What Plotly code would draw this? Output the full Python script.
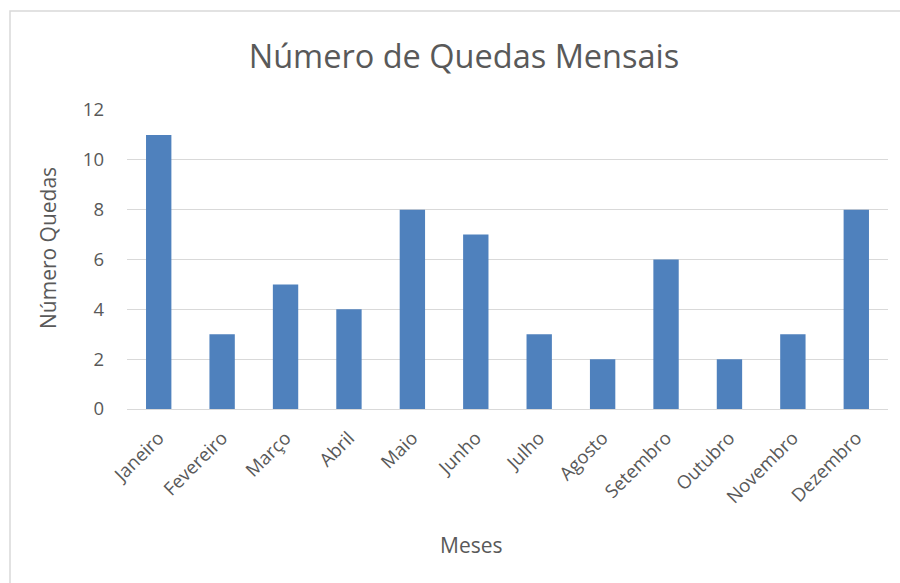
import plotly.graph_objects as go

meses = ["Janeiro", "Fevereiro", "Março", "Abril", "Maio", "Junho", "Julho",
         "Agosto", "Setembro", "Outubro", "Novembro", "Dezembro"]
quedas = [11, 3, 5, 4, 8, 7, 3, 2, 6, 2, 3, 8]
y_ticks = [0, 2, 4, 6, 8, 10, 12]

W, H = 900, 583
L, R, T, B = 127, 12, 110, 174
PW, PH = W - L - R, H - T - B

fig = go.Figure(go.Bar(x=meses, y=quedas, marker=dict(color="#4F81BD", line=dict(width=0))))

font = "Open Sans, Liberation Sans, sans-serif"
fig.update_layout(
    width=W, height=H,
    margin=dict(l=L, r=R, t=T, b=B),
    paper_bgcolor="white", plot_bgcolor="white",
    bargap=0.6,
    showlegend=False,
    font=dict(family=font, color="#595959"),
    title=dict(text="Número de Quedas Mensais", x=464 / W, xref="container", xanchor="center",
               y=1 - 57 / H, yanchor="middle", font=dict(size=32.5, color="#595959", family=font)),
    xaxis=dict(tickangle=-45, tickfont=dict(size=18.5), showgrid=False, showline=True,
               linecolor="#d9d9d9", linewidth=1, ticks="", ticklabelstandoff=10),
    yaxis=dict(range=[0, 12], tickvals=y_ticks, tickfont=dict(size=18.5), showgrid=True,
               gridcolor="#d9d9d9", gridwidth=1, zeroline=False, showline=False, ticks="",
               ticklabelstandoff=22),
)

# axis titles (positioned like the original, centred on the chart rather than the plot)
fig.add_annotation(text="Meses", xref="paper", yref="paper",
                   x=(471 - L) / PW, y=-(545 - (T + PH)) / PH,
                   xanchor="center", yanchor="middle", showarrow=False,
                   font=dict(size=21, color="#595959", family=font))
fig.add_annotation(text="Número Quedas", xref="paper", yref="paper",
                   x=(48 - L) / PW, y=1 - (248 - T) / PH, textangle=-90,
                   xanchor="center", yanchor="middle", showarrow=False,
                   font=dict(size=21, color="#595959", family=font))

# outer chart border (top and left visible)
x0 = (10 - L) / PW
y1 = 1 + (T - 11) / PH
fig.add_shape(type="rect", xref="paper", yref="paper", x0=x0, x1=1.2, y0=-1, y1=y1,
              line=dict(color="#d9d9d9", width=1.5), fillcolor="rgba(0,0,0,0)", layer="below")

fig.write_html("out.html", config={"displayModeBar": False})

# remove default page margin so the chart sits at (0, 0)
with open("out.html", encoding="utf-8") as f:
    html = f.read()
html = html.replace("<head>", "<head><style>html,body{margin:0;padding:0;overflow:hidden}</style>", 1)
with open("out.html", "w", encoding="utf-8") as f:
    f.write(html)
